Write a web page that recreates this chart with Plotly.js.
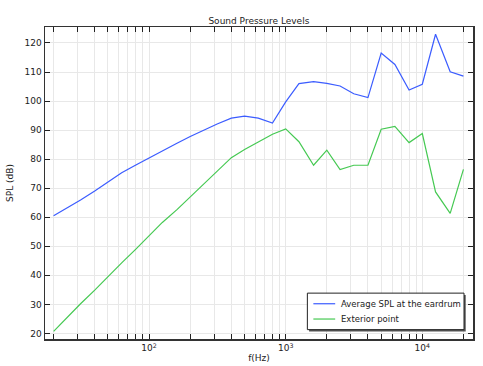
<!DOCTYPE html>
<html><head><meta charset="utf-8">
<script src="https://cdn.plot.ly/plotly-3.0.1.min.js"></script>
<style>html,body{margin:0;padding:0;background:#fff}#c{width:483px;height:366px}</style>
</head><body><div id="c"></div>
<script>
const freqs = [20,25,31.5,40,50,63,80,100,125,160,200,250,315,400,500,630,800,1000,1250,1600,2000,2500,3150,4000,5000,6300,8000,10000,12500,16000,20000];
const splEardrum = [60.5,63.1,65.9,69.0,72.2,75.3,78.0,80.5,83.0,85.5,87.8,90.0,92.1,94.1,94.8,94.1,92.4,99.7,106.0,106.7,106.1,105.2,102.5,101.2,116.5,112.6,103.8,105.8,123.0,110.1,108.6];
const splExterior = [20.7,25.5,30.2,34.9,39.6,44.3,49.0,53.7,58.2,62.6,67.0,71.4,75.9,80.5,83.3,86.0,88.6,90.4,86.0,77.9,83.1,76.4,77.9,77.9,90.3,91.3,85.7,88.8,68.7,61.3,76.5];
const seriesNames = ["Average SPL at the eardrum","Exterior point"];
const seriesColors = ["#3b5cff","#45c952"];
const xMajorVals = [100,1000,10000];
const xMajorText = ["10<sup>2</sup>","10<sup>3</sup>","10<sup>4</sup>"];
const xMinorVals = [20,30,40,50,60,70,80,90,200,300,400,500,600,700,800,900,2000,3000,4000,5000,6000,7000,8000,9000,20000];
const yTickVals = [20,30,40,50,60,70,80,90,100,110,120];

const fnt = {family:"DejaVu Sans, sans-serif", size:9, color:"#222"};
const series = [splEardrum, splExterior];
const data = series.map((ys,i) => ({x:freqs, y:ys, name:seriesNames[i], type:"scatter", mode:"lines", line:{color:seriesColors[i], width:1.2}}));

// legend box drawn in plot-area (paper) coordinates
const lg = {x0:0.613, x1:0.979, y0:0.030, y1:0.147, lx0:0.627, lx1:0.678, tx:0.686, rows:[0.113,0.064]};
const shapes = [
  {type:"rect", xref:"paper", yref:"paper", x0:lg.x0+0.004, x1:lg.x1+0.004, y0:lg.y0-0.006, y1:lg.y1-0.006, fillcolor:"#555", line:{width:0}},
  {type:"rect", xref:"paper", yref:"paper", x0:lg.x0, x1:lg.x1, y0:lg.y0, y1:lg.y1, fillcolor:"#fff", line:{color:"#222", width:1}}
];
const annotations = [];
seriesNames.forEach((n,i) => {
  shapes.push({type:"line", xref:"paper", yref:"paper", x0:lg.lx0, x1:lg.lx1, y0:lg.rows[i], y1:lg.rows[i], line:{color:seriesColors[i], width:1.2}});
  annotations.push({xref:"paper", yref:"paper", x:lg.tx, y:lg.rows[i], xanchor:"left", yanchor:"middle", showarrow:false, text:n, font:{family:"DejaVu Sans, sans-serif", size:8.5, color:"#222"}});
});

const layout = {
  width:483, height:366,
  margin:{l:45, r:10, t:27, b:27},
  paper_bgcolor:"#fff", plot_bgcolor:"#fff",
  font:fnt,
  showlegend:false,
  shapes:shapes, annotations:annotations,
  title:{text:"Sound Pressure Levels", font:fnt, x:0.536, xanchor:"center", y:0.943, yanchor:"middle"},
  xaxis:{type:"log", range:[Math.log10(17.3), Math.log10(23500)],
    tickmode:"array", tickvals:xMajorVals, ticktext:xMajorText,
    ticks:"inside", ticklen:5, tickcolor:"#222", tickwidth:1,
    minor:{tickmode:"array", tickvals:xMinorVals, ticks:"inside", ticklen:5, tickcolor:"#222", tickwidth:1, showgrid:true, gridcolor:"#e8e8e8", gridwidth:1},
    showline:true, linecolor:"#333", linewidth:1.5, mirror:"allticks",
    showgrid:true, gridcolor:"#e8e8e8", gridwidth:1, zeroline:false,
    tickfont:fnt,
    title:{text:"f(Hz)", font:fnt, standoff:2}},
  yaxis:{range:[18.07, 125.5], tickmode:"array", tickvals:yTickVals,
    ticks:"inside", ticklen:5, tickcolor:"#222", tickwidth:1,
    showline:true, linecolor:"#333", linewidth:1.5, mirror:"allticks",
    showgrid:true, gridcolor:"#e8e8e8", gridwidth:1, zeroline:false,
    tickfont:fnt,
    title:{text:"SPL (dB)", font:fnt, standoff:9}}
};
Plotly.newPlot("c", data, layout, {displayModeBar:false, staticPlot:true});
</script></body></html>
